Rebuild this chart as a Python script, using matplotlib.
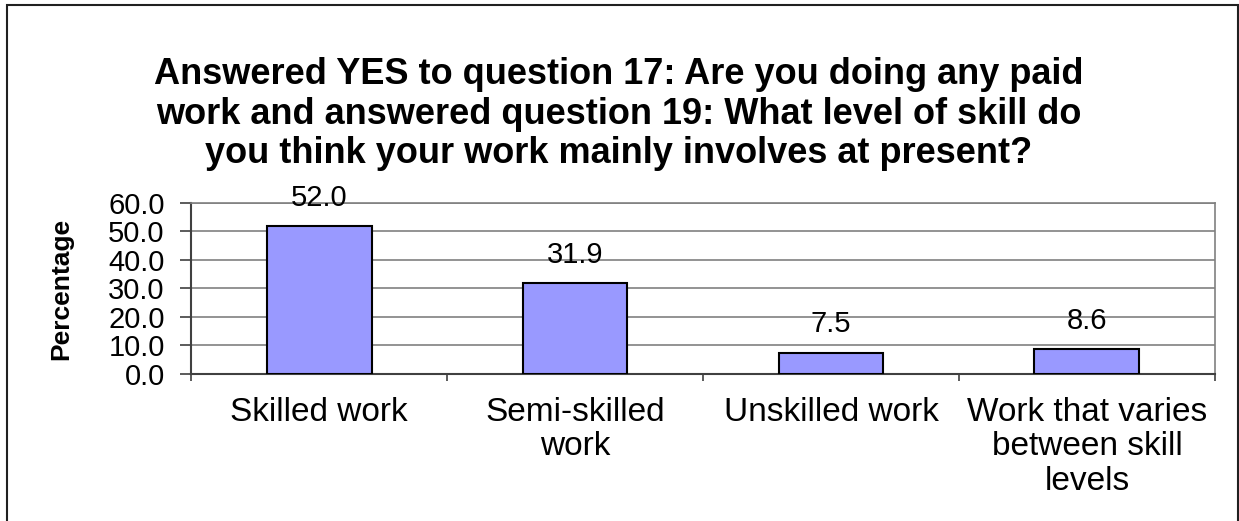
import numpy as np
import matplotlib.pyplot as plt
from matplotlib.patches import Rectangle

plt.rcParams['font.family'] = ['Liberation Sans', 'DejaVu Sans']

categories = ['Skilled work', 'Semi-skilled\nwork', 'Unskilled work',
              'Work that varies\nbetween skill\nlevels']
percent = [52.0, 31.9, 7.5, 8.6]
yticks = [0, 10, 20, 30, 40, 50, 60]

title = ('Answered YES to question 17: Are you doing any paid\n'
         'work and answered question 19: What level of skill do\n'
         'you think your work mainly involves at present?')

fig = plt.figure(figsize=(12.39, 5.21), dpi=100)
ax = fig.add_axes([0.1542, 0.2822, 0.8264, 0.3282])

x = np.arange(len(categories))
ax.bar(x, percent, width=0.41, color='#9999ff', edgecolor='black',
       linewidth=1.5, zorder=3)

# value labels sit about 20 px above each bar top
for xi, v in zip(x, percent):
    ax.annotate('%.1f' % v, (xi, v), xytext=(0, 14.5),
                textcoords='offset points', ha='center', va='baseline',
                fontsize=21, zorder=4)

ax.set_xlim(-0.5, len(categories) - 0.5)
ax.set_ylim(0, 60)
ax.set_yticks(yticks)
ax.set_yticklabels(['%.1f' % t for t in yticks], fontsize=21)
ax.yaxis.grid(True, color='#808080', linewidth=1.2, zorder=0)

# ticks between categories, labels under the bar centres
ax.set_xticks(np.arange(len(categories) + 1) - 0.5)
ax.set_xticklabels([])
ax.set_xticks(x, minor=True)
ax.set_xticklabels(categories, minor=True, fontsize=24, linespacing=1.15)
ax.tick_params(axis='x', which='major', direction='out', length=5,
               width=1.2, color='#404040')
ax.tick_params(axis='x', which='minor', length=0, pad=16.5)
ax.tick_params(axis='y', direction='out', length=8, width=1.2,
               color='#404040', pad=11)

for side in ['left', 'bottom']:
    ax.spines[side].set_color('#404040')
    ax.spines[side].set_linewidth(1.5)
for side in ['top', 'right']:
    ax.spines[side].set_color('#808080')
    ax.spines[side].set_linewidth(1.2)

ax.set_ylabel('Percentage', fontsize=19, fontweight='bold')
ax.yaxis.set_label_coords(-0.1153, 0.5)

fig.text(0.4995, 1 - 114 / 521, title, ha='center', va='center',
         fontsize=26, fontweight='bold', linespacing=1.17)

# chart frame, open at the bottom edge
fig.patches.append(Rectangle((7 / 1239, -0.05), 1231 / 1239, 1.04,
                             transform=fig.transFigure, fill=False,
                             edgecolor='#202020', linewidth=1.5))

fig.savefig('out.png', dpi=100)
